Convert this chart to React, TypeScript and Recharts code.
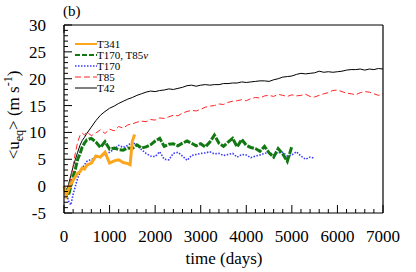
import React from "react";
import { LineChart, Line, XAxis, YAxis, Customized } from "recharts";

// time axis (days); finer sampling early on where the spin-up is fast
const days = [
  0, 50, 100, 150, 200, 250, 300, 350, 400, 450, 500,
  600, 700, 800, 900, 1000, 1100, 1200, 1300, 1400, 1450, 1500, 1550,
  1600, 1700, 1800, 1900, 2000, 2100, 2200, 2300, 2400, 2500,
  2600, 2700, 2800, 2900, 3000, 3100, 3200, 3300, 3400, 3500,
  3600, 3700, 3800, 3900, 4000, 4100, 4200, 4300, 4400, 4500,
  4600, 4700, 4800, 4900, 5000, 5100, 5200, 5300, 5400, 5500,
  5600, 5700, 5800, 5900, 6000, 6100, 6200, 6300, 6400, 6500,
  6600, 6700, 6800, 6900, 7000
];

const t341 = [
  0.0, -1.7, -0.6, 0.4, 1.1, 1.8, 2.4, 2.7, 3.4, 3.2, 3.9,
  4.3, 5.6, 5.4, 6.3, 4.3, 4.7, 4.9, 4.4, 4.2, 4.0, 8.4, 9.6
];

const t170nu = [
  null, -0.4, -1.7, 0.0, 1.8, 3.2, 5.0, 6.0, 7.3, 8.0, 8.6,
  8.9, 8.2, 7.2, 8.3, 6.9, 7.1, 6.8, 6.7, 7.1, null, 7.0, null,
  7.7, 7.1, 7.3, 7.7, 8.4, 8.9, 7.4, 7.8, 7.9, 7.5,
  8.0, 8.4, 8.0, 7.5, 7.9, 7.3, 8.2, 9.5, 8.0, 7.4,
  8.2, 8.9, 7.3, 8.7, 7.6, 7.2, 7.0, 6.5, 7.4, 6.2,
  5.4, 7.0, 6.0, 4.6, 7.4
];

const t170 = [
  null, -1.1, -2.8, -3.5, -1.5, 0.0, 1.5, 2.5, 3.4, 4.0, 4.6,
  5.0, 5.3, 5.6, 5.9, 6.3, 6.9, 7.6, 7.2, 7.6, null, 8.2, null,
  7.6, 6.8, 6.1, 5.6, 5.5, 6.4, 5.0, 4.9, 6.1, 6.3,
  5.6, 4.8, 5.7, 5.9, 6.1, 6.2, 6.4, 6.0, 6.1, 5.7,
  5.9, 6.1, 5.4, 5.9, 5.8, 5.3, 5.6, 5.8, 6.1, 6.3,
  5.8, 6.2, 6.3, 5.6, 5.8, 6.4, 5.6, 5.0, 5.4, 5.2
];

const t85 = [
  0.0, -0.5, -0.3, 1.5, 3.8, 6.2, 8.2, 9.4, 9.9, 9.5, 10.1,
  9.4, 9.9, 10.5, 9.8, 10.6, 10.3, 11.1, 10.8, 11.4, null, 11.6, null,
  11.9, 12.1, 12.0, 12.4, 12.3, 12.7, 12.6, 12.9, 13.2, 13.1,
  13.6, 13.9, 14.1, 14.0, 14.3, 14.7, 14.9, 15.0, 15.3, 15.2,
  15.6, 15.8, 15.9, 16.1, 15.9, 16.3, 16.5, 16.4, 16.8, 16.9,
  16.7, 17.1, 16.9, 16.7, 17.0, 16.8, 16.9, 17.1, 16.7, 16.6,
  16.9, 17.2, 17.4, 17.8, 17.9, 17.6, 17.3, 17.2, 17.0, 17.4,
  17.6, 17.5, 17.2, 16.9, 17.2
];

const t42 = [
  0.0, -0.8, 0.3, 2.0, 3.6, 5.0, 6.3, 7.6, 8.5, 9.1, 9.8,
  11.0, 12.2, 13.2, 13.9, 14.5, 14.9, 15.4, 15.8, 16.2, null, 16.5, null,
  16.9, 17.2, 17.5, 17.7, 17.6, 17.8, 17.9, 18.1, 18.0, 18.2,
  18.4, 18.7, 18.8, 18.6, 18.8, 18.9, 18.8, 18.9, 18.9, 19.1,
  19.1, 19.2, 19.2, 19.4, 19.3, 19.4, 19.5, 19.6, 19.6, 19.5,
  19.8, 20.0, 20.3, 20.4, 20.5, 20.8, 21.0, 20.9, 21.0, 21.1,
  21.4, 21.2, 21.3, 21.2, 21.3, 21.4, 21.6, 21.7, 21.7, 21.8,
  21.6, 21.8, 21.7, 21.9, 21.8
];

const xMajor = [0, 1000, 2000, 3000, 4000, 5000, 6000, 7000];
const yMajor = [-5, 0, 5, 10, 15, 20, 25, 30];

const series = [
  { key: "t341", name: "T341", color: "#fba61c", width: 3, dash: undefined, legendDash: undefined },
  { key: "t170nu", name: "T170, T85", nu: true, color: "#127812", width: 3, dash: "7 1.5", legendDash: "5 2" },
  { key: "t170", name: "T170", color: "#3a3aff", width: 1.6, dash: "1.5 1.5", legendDash: "1.5 1.5" },
  { key: "t85", name: "T85", color: "#ff2626", width: 1, dash: "6 3", legendDash: "6 3" },
  { key: "t42", name: "T42", color: "#000000", width: 1, dash: undefined, legendDash: undefined }
];

const data = days.map((d, i) => ({
  day: d,
  t341: t341[i] ?? null,
  t170nu: t170nu[i] ?? null,
  t170: t170[i] ?? null,
  t85: t85[i] ?? null,
  t42: t42[i] ?? null
}));

const xTicks = xMajor.flatMap((v) => (v < 7000 ? [v, v + 200, v + 400, v + 600, v + 800] : [v]));
const yTicks = yMajor.flatMap((v) => (v < 30 ? [v, v + 1, v + 2, v + 3, v + 4] : [v]));

const serif = { fontFamily: "'Liberation Serif', 'DejaVu Serif', serif" };

const XTick = ({ x, y, payload, top }: any) => {
  const major = payload.value % 1000 === 0;
  const len = major ? 8 : 4;
  return (
    <g>
      <line x1={x} x2={x} y1={y} y2={top ? y + len : y - len} stroke="#000" strokeWidth={1} />
      {major && !top && (
        <text x={x} y={y + 29} textAnchor="middle" fontSize={17} style={serif} fill="#000">
          {payload.value}
        </text>
      )}
    </g>
  );
};

const YTick = ({ x, y, payload, right }: any) => {
  const major = payload.value % 5 === 0;
  const len = major ? 8 : 4;
  return (
    <g>
      <line x1={x} x2={right ? x - len : x + len} y1={y} y2={y} stroke="#000" strokeWidth={1} />
      {major && !right && (
        <text x={x - 18} y={y + 6} textAnchor="end" fontSize={17} style={serif} fill="#000">
          {payload.value}
        </text>
      )}
    </g>
  );
};

const YTitle = () => (
  <text
    x={19}
    y={115}
    transform="rotate(-90, 19, 115)"
    textAnchor="middle"
    fontSize={17}
    style={serif}
    fill="#000"
  >
    {"<u"}
    <tspan fontSize={12} dy={4}>eq</tspan>
    <tspan dy={-4}>{"> (m s"}</tspan>
    <tspan fontSize={12} dy={-7}>-1</tspan>
    <tspan dy={7}>)</tspan>
  </text>
);

const Labels = () => (
  <g>
    <text x={63} y={16} fontSize={15} style={serif} fill="#000">(b)</text>
    <text x={224} y={264} textAnchor="middle" fontSize={17} style={serif} fill="#000">
      time (days)
    </text>
  </g>
);

const LegendBox = () => (
  <g transform="translate(75, 44)">
    {series.map((s, i) => {
      const y = i * 11;
      return (
        <g key={s.key}>
          <line x1={0} x2={22} y1={y} y2={y} stroke={s.color} strokeWidth={s.width === 1 ? 1 : Math.min(s.width, 2)} strokeDasharray={s.legendDash} />
          <text x={22} y={y + 4} fontSize={11} style={serif} fill="#000">
            {s.name}
            {s.nu && <tspan fontStyle="italic">ν</tspan>}
          </text>
        </g>
      );
    })}
  </g>
);

export default function App() {
  return (
    <div style={{ position: "absolute", left: 0, top: 0 }}>
      <LineChart width={416} height={272} data={data} margin={{ top: 0, right: 0, bottom: 0, left: 0 }}>
        <XAxis
          dataKey="day"
          type="number"
          domain={[0, 7000]}
          ticks={xTicks}
          interval={0}
          height={59}
          tickSize={0}
          tickMargin={0}
          tick={<XTick />}
          axisLine={{ stroke: "#000", strokeWidth: 1.2 }}
        />
        <XAxis
          xAxisId="top"
          orientation="top"
          type="number"
          domain={[0, 7000]}
          ticks={xTicks}
          interval={0}
          height={25}
          tickSize={0}
          tickMargin={0}
          tick={<XTick top />}
          axisLine={{ stroke: "#000", strokeWidth: 1.2 }}
        />
        <YAxis
          type="number"
          domain={[-5, 30]}
          ticks={yTicks}
          interval={0}
          width={64}
          tickSize={0}
          tickMargin={0}
          tick={<YTick />}
          axisLine={{ stroke: "#000", strokeWidth: 1.2 }}
        />
        <YAxis
          yAxisId="right"
          orientation="right"
          type="number"
          domain={[-5, 30]}
          ticks={yTicks}
          interval={0}
          width={33}
          tickSize={0}
          tickMargin={0}
          tick={<YTick right />}
          axisLine={{ stroke: "#000", strokeWidth: 1.2 }}
        />
        {[...series].reverse().map((s) => (
          <Line
            key={s.key}
            dataKey={s.key}
            stroke={s.color}
            strokeWidth={s.width}
            strokeDasharray={s.dash}
            dot={false}
            connectNulls
            isAnimationActive={false}
          />
        ))}
        <Customized component={<LegendBox />} />
        <Customized component={<YTitle />} />
        <Customized component={<Labels />} />
      </LineChart>
    </div>
  );
}
